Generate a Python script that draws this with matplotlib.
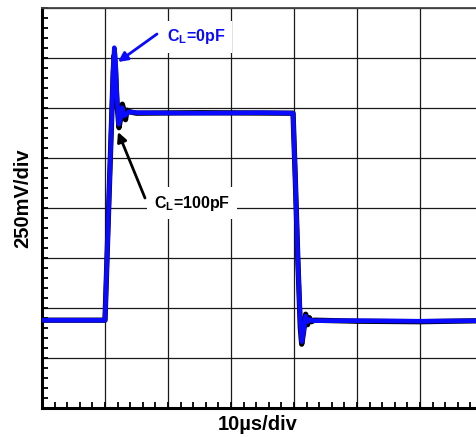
import matplotlib

matplotlib.use("Agg")
import matplotlib.pyplot as plt  # noqa: E402
from matplotlib.ticker import MultipleLocator  # noqa: E402

# waveforms in scope divisions (x: 10us/div, y: 250mV/div)
T_CL0 = [0.0, 1.0, 1.04, 1.09, 1.13, 1.148, 1.165, 1.19, 1.218, 1.245, 1.272, 1.30,
         1.335, 1.38, 1.5, 2.5, 3.5, 3.985, 4.02, 4.06, 4.10, 4.125, 4.155, 4.185,
         4.215, 4.25, 4.30, 5.0, 6.0, 7.0]
V_CL0 = [1.75, 1.75, 3.3, 5.2, 6.75, 7.2, 7.0, 6.2, 5.67, 5.78, 6.0, 5.84,
         5.86, 5.92, 5.9, 5.89, 5.9, 5.89, 4.6, 3.0, 1.7, 1.32, 1.55, 1.83,
         1.72, 1.76, 1.74, 1.74, 1.73, 1.74]

T_CL100 = [0.0, 1.0, 1.04, 1.09, 1.13, 1.145, 1.165, 1.19, 1.222, 1.25, 1.275, 1.30,
           1.325, 1.35, 1.38, 1.5, 2.5, 3.985, 4.02, 4.06, 4.10, 4.122, 4.15, 4.185,
           4.215, 4.245, 4.28, 4.32, 5.0, 6.0, 7.0]
V_CL100 = [1.75, 1.75, 3.3, 5.2, 6.7, 7.05, 6.8, 6.1, 5.6, 5.8, 6.07, 5.95,
           5.76, 5.95, 5.92, 5.89, 5.9, 5.89, 4.6, 3.0, 1.6, 1.27, 1.5, 1.87,
           1.66, 1.8, 1.72, 1.75, 1.73, 1.72, 1.74]

N_XDIV = 7
N_YDIV = 8
BLUE = "#0a0aff"


def px(x, y):
    """pixel position in the picture -> data (divisions)"""
    return (x - 42) / 63.0, (407.7 - y) / 50.0


fig = plt.figure(figsize=(4.76, 4.37), dpi=100)
ax = fig.add_axes([42 / 476, (437 - 407.7) / 437, 441 / 476, 400 / 437])
ax.set_xlim(0, N_XDIV)
ax.set_ylim(0, N_YDIV)

ax.xaxis.set_major_locator(MultipleLocator(1))
ax.yaxis.set_major_locator(MultipleLocator(1))
ax.xaxis.set_minor_locator(MultipleLocator(0.2))
ax.yaxis.set_minor_locator(MultipleLocator(0.2))
ax.tick_params(which="both", direction="in", length=4, width=1.3, color="black",
               labelbottom=False, labelleft=False, top=False, right=False)
ax.grid(True, which="major", color="#1a1a1a", lw=0.9, zorder=1)
ax.set_axisbelow(True)
for s in ("left", "bottom"):
    ax.spines[s].set_linewidth(2.2)
ax.spines["top"].set_linewidth(1.3)
ax.spines["top"].set_color("#444444")

ax.plot(T_CL100, V_CL100, color="black", lw=3.8, solid_joinstyle="round", zorder=3)
ax.plot(T_CL0, V_CL0, color=BLUE, lw=3.3, solid_joinstyle="round", zorder=4)

# labels with white boxes over the grid
ax.text(*px(196, 37), r"C$_\mathregular{L}$=0pF", color=BLUE, fontsize=11.5,
        fontweight="bold", family="Liberation Sans", ha="center", va="center",
        bbox=dict(facecolor="white", edgecolor="none", pad=5), zorder=5)
ax.text(*px(192, 203), r"C$_\mathregular{L}$=100pF", color="black", fontsize=11.5,
        fontweight="bold", family="Liberation Sans", ha="center", va="center",
        bbox=dict(facecolor="white", edgecolor="none", pad=5), zorder=5)

ax.annotate("", xy=px(118, 62), xytext=px(157, 34),
            arrowprops=dict(arrowstyle="-|>", color=BLUE, lw=2, mutation_scale=14,
                            shrinkA=0, shrinkB=0), zorder=6)
ax.annotate("", xy=px(118, 132), xytext=px(145, 198),
            arrowprops=dict(arrowstyle="-|>", color="black", lw=2, mutation_scale=14,
                            shrinkA=0, shrinkB=0), zorder=6)

fig.text(257.5 / 476, 1 - 425 / 437, "10µs/div", fontsize=14.5, fontweight="bold",
         family="Liberation Sans", ha="center", va="center")
fig.text(23 / 476, 1 - 198 / 437, "250mV/div", fontsize=14.5, fontweight="bold",
         family="Liberation Sans", ha="center", va="center", rotation=90)

fig.savefig("out.png", dpi=100)
